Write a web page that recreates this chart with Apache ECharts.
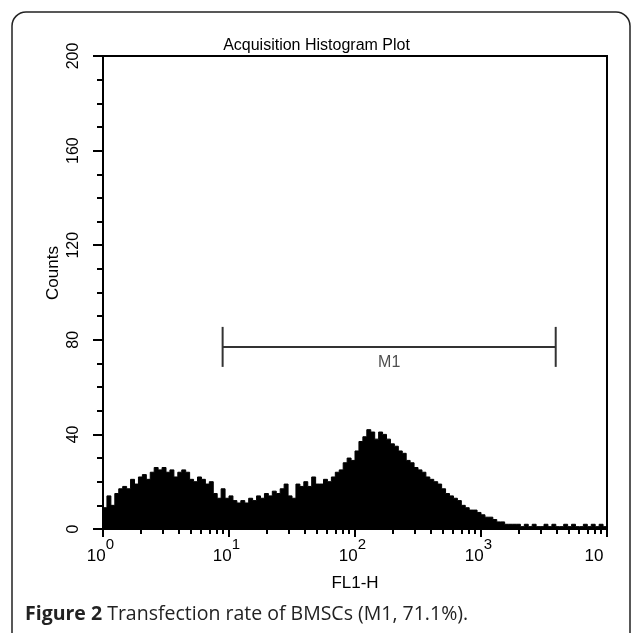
<!DOCTYPE html>
<html>
<head>
<meta charset="utf-8">
<script src="https://cdn.jsdelivr.net/npm/echarts@6/dist/echarts.min.js"></script>
<style>
html,body{margin:0;padding:0;background:#fff;}
#chart{width:633px;height:633px;}
</style>
</head>
<body>
<div id="chart"></div>
<script>
// ---- data ----
const chartTitle = 'Acquisition Histogram Plot';
const xAxisName = 'FL1-H';
const yAxisName = 'Counts';
const captionBold = 'Figure 2';
const captionText = ' Transfection rate of BMSCs (M1, 71.1%).';

// histogram: 128 channel bins spanning 10^0 .. 10^4 (8 of 1024 channels each)
const binCounts = [
  9, 14, 10, 15, 17, 18, 17, 21, 19, 22, 23, 21, 24, 26, 25, 26,
  24, 25, 22, 24, 25, 24, 21, 20, 22, 21, 19, 20, 15, 13, 17, 13,
  14, 12, 11, 12, 11, 13, 12, 14, 13, 15, 14, 16, 15, 17, 19, 14,
  13, 19, 18, 20, 18, 22, 19, 19, 21, 20, 22, 24, 25, 28, 30, 29,
  33, 37, 39, 42, 41, 38, 41, 40, 38, 36, 35, 33, 32, 29, 28, 26,
  25, 24, 22, 21, 20, 19, 17, 15, 14, 13, 12, 10, 9, 8, 8, 7,
  6, 5, 5, 4, 3, 3, 2, 2, 2, 2, 1, 2, 1, 2, 1, 1,
  2, 1, 2, 1, 1, 2, 1, 2, 1, 1, 2, 1, 2, 1, 2, 1
];
// channel edges of the bins (0 .. 1024); the step line holds each bin's count to the next edge
const binEdges = binCounts.map((_, i) => i * 8).concat([1024]);
const stepData = binCounts.concat([binCounts[binCounts.length - 1]]);

const yMin = 0, yMax = 200, yStep = 40;
const xTickValues = [1, 10, 100, 1000, 10000];
const xTickExponents = ['0', '1', '2', '3', ''];
const xMinorTickValues = [];
for (let d = 1; d <= 1000; d *= 10) for (let k = 2; k <= 9; k++) xMinorTickValues.push(k * d);

// M1 marker gate
const m1Name = 'M1';
const m1Range = [8.9, 3917];
const m1Level = 77;
const m1LabelAt = 186.7;

// ---- chart ----
const axFont = "'Liberation Sans', Arial, sans-serif";
const capFont = "'Open Sans', 'Noto Sans', sans-serif";
const chart = echarts.init(document.getElementById('chart'), null, {renderer: 'canvas'});

function xLabel(v) {
  const i = Math.round(Math.log10(v));
  if (i === 4) return '{b|10}{padR|}';
  return '{b|10}{s|' + xTickExponents[i] + '}{pad|}';
}

const option = {
  animation: false,
  backgroundColor: '#fff',
  title: {
    text: chartTitle,
    left: 'center',
    top: 33,
    textStyle: {fontFamily: axFont, fontSize: 16, fontWeight: 'normal', color: '#000'}
  },
  grid: {
    left: 103, right: 26, top: 56, bottom: 104,
    show: true, borderColor: '#000', borderWidth: 2, backgroundColor: 'transparent'
  },
  xAxis: [
    {
      type: 'category', data: binEdges, show: false, boundaryGap: false, gridIndex: 0
    },
    {
      type: 'log', logBase: 10, min: 1, max: 10000, position: 'bottom', gridIndex: 0,
      name: xAxisName, nameLocation: 'middle', nameGap: 46,
      nameTextStyle: {fontFamily: axFont, fontSize: 17, color: '#000'},
      axisLine: {show: true, lineStyle: {color: '#000', width: 2}},
      axisTick: {show: true, inside: false, length: 8, customValues: xTickValues,
                 lineStyle: {color: '#000', width: 2}},
      axisLabel: {
        show: true, customValues: xTickValues, margin: 8,
        showMinLabel: true, showMaxLabel: true,
        formatter: xLabel,
        rich: {
          b: {fontFamily: axFont, fontSize: 17, color: '#000', lineHeight: 28, verticalAlign: 'bottom'},
          s: {fontFamily: axFont, fontSize: 15, color: '#000', lineHeight: 28, verticalAlign: 'top'},
          pad: {width: 5},
          padR: {width: 26}
        }
      },
      splitLine: {show: false}
    },
    {
      type: 'log', logBase: 10, min: 1, max: 10000, position: 'bottom', gridIndex: 0,
      axisLine: {show: false},
      axisTick: {show: true, inside: false, length: 5, customValues: xMinorTickValues,
                 lineStyle: {color: '#000', width: 2}},
      axisLabel: {show: false},
      splitLine: {show: false}
    }
  ],
  yAxis: {
    type: 'value', min: yMin, max: yMax, interval: yStep,
    axisLine: {show: true, lineStyle: {color: '#000', width: 2}},
    axisTick: {show: true, inside: false, length: 10, lineStyle: {color: '#000', width: 2}},
    minorTick: {show: true, splitNumber: 4, length: 6, lineStyle: {color: '#000', width: 2}},
    splitLine: {show: false},
    axisLabel: {
      rotate: 90, margin: 21,
      fontFamily: axFont, fontSize: 16, color: '#000'
    }
  },
  graphic: [
    {
      type: 'rect', silent: true,
      shape: {x: 12, y: 12, width: 618, height: 660, r: 14},
      style: {fill: 'none', stroke: '#222', lineWidth: 1.5}
    },
    {
      type: 'text', silent: true,
      x: 53, y: 273, rotation: Math.PI / 2,
      style: {text: yAxisName, fontFamily: axFont, fontSize: 17, fill: '#000',
              align: 'center', verticalAlign: 'middle'}
    },
    {
      type: 'text', silent: true,
      x: 25, y: 614,
      style: {
        text: '{b|' + captionBold + '}' + captionText,
        fontFamily: capFont, fontSize: 19.5, fill: '#222',
        verticalAlign: 'middle',
        rich: {b: {fontFamily: capFont, fontSize: 19.5, fontWeight: 'bold', fill: '#222'}}
      }
    }
  ],
  series: [
    {
      type: 'line', xAxisIndex: 0, yAxisIndex: 0,
      data: stepData, step: 'end', showSymbol: false, symbol: 'none',
      lineStyle: {color: '#000', width: 1},
      areaStyle: {color: '#000', opacity: 1},
      silent: true
    },
    {
      type: 'line', xAxisIndex: 1, yAxisIndex: 0,
      data: [[m1Range[0], m1Level], [m1Range[1], m1Level]],
      symbol: 'rect', symbolSize: [2, 40], showSymbol: true,
      itemStyle: {color: '#333'},
      lineStyle: {color: '#333', width: 2},
      silent: true
    },
    {
      type: 'scatter', xAxisIndex: 1, yAxisIndex: 0,
      data: [[m1LabelAt, m1Level]],
      symbolSize: 1, itemStyle: {color: 'rgba(0,0,0,0)'},
      label: {show: true, position: 'bottom', distance: 7, formatter: m1Name,
              fontFamily: axFont, fontSize: 16, color: '#222'},
      silent: true
    }
  ]
};
chart.setOption(option);
</script>
</body>
</html>
